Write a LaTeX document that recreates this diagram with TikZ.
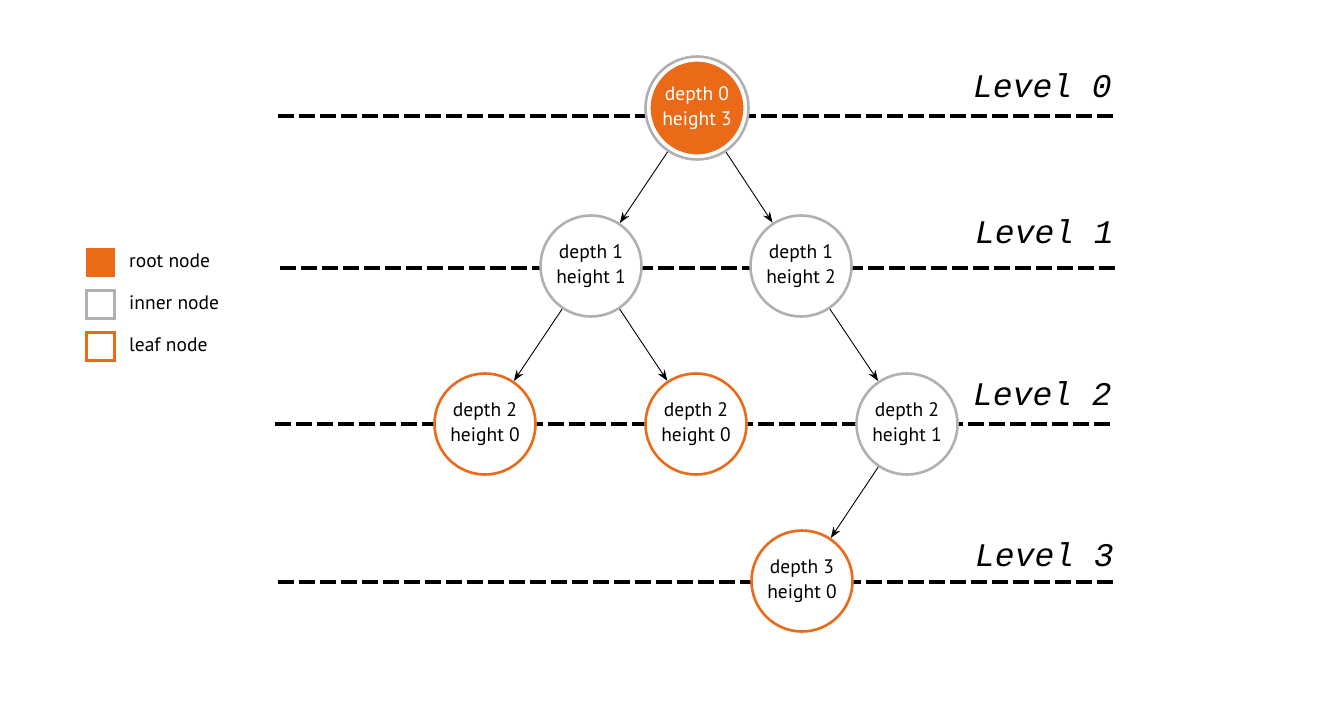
\documentclass[tikz,border=0pt]{standalone}
\usepackage{fontspec}
\setmainfont{PT Sans}
\newfontfamily\levelfont{Liberation Mono}
\usetikzlibrary{arrows.meta}
\definecolor{treeorange}{RGB}{234,106,23}
\definecolor{treegray}{RGB}{176,176,176}
\begin{document}
\begin{tikzpicture}[x=1pt,y=-1pt,
  levelline/.style={line width=4.5pt,dash pattern=on 16pt off 5pt},
  levellabel/.style={anchor=base east,font=\levelfont\itshape\fontsize{33}{33}\selectfont,inner sep=0pt},
  treenode/.style={circle,minimum size=101pt,inner sep=0pt,line width=2.6pt,fill=white,align=center,font=\fontsize{19.5}{25}\selectfont},
  innernode/.style={treenode,draw=treegray},
  leafnode/.style={treenode,draw=treeorange},
  edge/.style={-{Stealth[length=11pt,width=8pt]},line width=0.9pt},
  legendbox/.style={minimum size=29pt,inner sep=0pt,line width=3pt},
  legendtext/.style={anchor=west,inner sep=0pt,font=\fontsize{19.5}{24}\selectfont}
]
\useasboundingbox (0,0) rectangle (1326,718);
% level lines
\draw[levelline] (278,116) -- (1113,116);
\draw[levelline] (280,268) -- (1115,268);
\draw[levelline] (275,424) -- (1112,424);
\draw[levelline] (278,582) -- (1113,582);
% level labels
\node[levellabel] (l0) at (1112,97) {Level 0};
\node[levellabel] (l1) at (1114,243) {Level 1};
\node[levellabel] (l2) at (1112,405) {Level 2};
\node[levellabel] (l3) at (1114,566) {Level 3};
% nodes
\node[treenode,draw=treegray,minimum size=103pt] (r) at (697,108) {};
\node[treenode,fill=treeorange,draw=white,line width=1.2pt,minimum size=94pt,text=white] (rin) at (697,108) {depth 0\\height 3};
\node[innernode] (a) at (591,266) {depth 1\\height 1};
\node[innernode] (b) at (801,266) {depth 1\\height 2};
\node[leafnode] (c) at (485,424) {depth 2\\height 0};
\node[leafnode] (d) at (696,424) {depth 2\\height 0};
\node[innernode] (e) at (907,424) {depth 2\\height 1};
\node[leafnode] (f) at (802,581) {depth 3\\height 0};
% edges
\draw[edge] (r) -- (a);
\draw[edge] (r) -- (b);
\draw[edge] (a) -- (c);
\draw[edge] (a) -- (d);
\draw[edge] (b) -- (e);
\draw[edge] (e) -- (f);
% legend
\node[legendbox,fill=treeorange] (k1) at (100.5,262) {};
\node[legendbox,draw=treegray,minimum size=28pt] (k2) at (100.5,304) {};
\node[legendbox,draw=treeorange,minimum size=28pt] (k3) at (100.5,346.5) {};
\node[legendtext] (t1) at (129,261) {root node};
\node[legendtext] (t2) at (129,303) {inner node};
\node[legendtext] (t3) at (129,345) {leaf node};
\end{tikzpicture}
\end{document}
